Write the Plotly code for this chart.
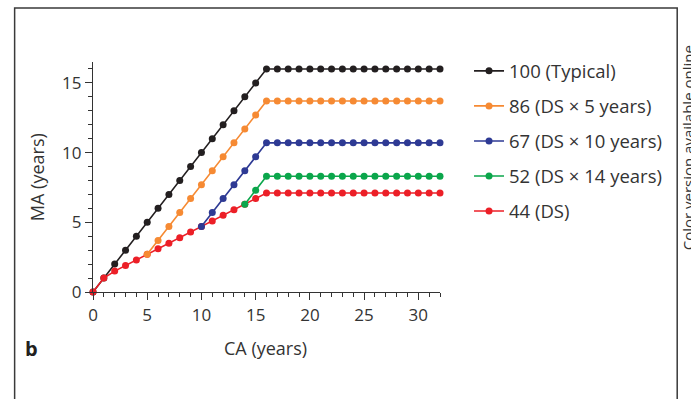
import plotly.graph_objects as go

# ---- data ----
ca_all = list(range(0, 33))
ma_100 = [0, 1, 2, 3, 4, 5, 6, 7, 8, 9, 10, 11, 12, 13, 14, 15, 16,
          16, 16, 16, 16, 16, 16, 16, 16, 16, 16, 16, 16, 16, 16, 16, 16]
ma_44 = [0, 1, 1.5, 1.9, 2.3, 2.7, 3.1, 3.5, 3.9, 4.3, 4.7, 5.1, 5.5, 5.9, 6.3, 6.7, 7.1,
         7.1, 7.1, 7.1, 7.1, 7.1, 7.1, 7.1, 7.1, 7.1, 7.1, 7.1, 7.1, 7.1, 7.1, 7.1, 7.1]
ca_86 = list(range(5, 33))
ma_86 = [2.7, 3.7, 4.7, 5.7, 6.7, 7.7, 8.7, 9.7, 10.7, 11.7, 12.7, 13.7,
         13.7, 13.7, 13.7, 13.7, 13.7, 13.7, 13.7, 13.7, 13.7, 13.7, 13.7, 13.7, 13.7, 13.7, 13.7, 13.7]
ca_67 = list(range(10, 33))
ma_67 = [4.7, 5.7, 6.7, 7.7, 8.7, 9.7, 10.7,
         10.7, 10.7, 10.7, 10.7, 10.7, 10.7, 10.7, 10.7, 10.7, 10.7, 10.7, 10.7, 10.7, 10.7, 10.7, 10.7]
ca_52 = list(range(14, 33))
ma_52 = [6.3, 7.3, 8.3,
         8.3, 8.3, 8.3, 8.3, 8.3, 8.3, 8.3, 8.3, 8.3, 8.3, 8.3, 8.3, 8.3, 8.3, 8.3, 8.3]

labels = ["100 (Typical)", "86 (DS × 5 years)", "67 (DS × 10 years)", "52 (DS × 14 years)", "44 (DS)"]
colors = ["#231f20", "#f68a33", "#2e3a94", "#0ba64b", "#ec1f27"]

FONT = "Open Sans"
TXT = "#333333"

fig = go.Figure()
series = [
    (ca_all, ma_100, 0),
    (ca_all, ma_44, 4),
    (ca_52, ma_52, 3),
    (ca_67, ma_67, 2),
    (ca_86, ma_86, 1),
]
for xs, ys, i in series:
    fig.add_trace(go.Scatter(
        x=xs, y=ys, mode="lines+markers", name=labels[i],
        line=dict(color=colors[i], width=1.6),
        marker=dict(color=colors[i], size=7),
        cliponaxis=False, legendrank=i + 1, legendgroup="g%d" % i,
    ))

axis_common = dict(
    showgrid=False, zeroline=False, showline=True, linecolor="#333333", linewidth=1.2,
    ticks="outside", ticklen=7, tickwidth=1.2, tickcolor="#333333",
    tickfont=dict(family=FONT, size=17, color=TXT),
    minor=dict(dtick=1, ticks="outside", ticklen=4, tickwidth=1, tickcolor="#333333"),
    fixedrange=True,
)
fig.update_xaxes(range=[0, 32], tick0=0, dtick=5, **axis_common)
fig.update_yaxes(range=[0, 16.5], tick0=0, dtick=5, **axis_common)

L, R, T, B = 93.3, 251.0, 61.7, 106.7
W, H = 691, 399
pw, ph = W - L - R, H - T - B

def px(x):
    return (x - L) / pw

def py(y):
    return (H - B - y) / ph

fig.update_layout(
    width=W, height=H,
    margin=dict(l=L, r=R, t=T, b=B, pad=0),
    paper_bgcolor="white", plot_bgcolor="white",
    font=dict(family=FONT, size=15, color=TXT),
    showlegend=True,
    legend=dict(
        x=px(469), y=py(52), xanchor="left", yanchor="top",
        font=dict(family=FONT, size=18.5, color=TXT),
        tracegroupgap=8, bgcolor="rgba(0,0,0,0)", itemsizing="trace",
    ),
    shapes=[dict(type="rect", xref="paper", yref="paper",
                 x0=px(15), x1=px(677), y0=py(415), y1=py(7.5),
                 line=dict(color="#3a3a3a", width=1.5), fillcolor="rgba(0,0,0,0)", layer="below")],
    annotations=[
        dict(text="MA (years)", xref="paper", yref="paper", x=px(38), y=py(177.5),
             textangle=-90, showarrow=False, xanchor="center", yanchor="middle",
             font=dict(family=FONT, size=18, color=TXT)),
        dict(text="CA (years)", xref="paper", yref="paper", x=px(266), y=py(348),
             showarrow=False, xanchor="center", yanchor="middle",
             font=dict(family=FONT, size=18, color=TXT)),
        dict(text="<b>b</b>", xref="paper", yref="paper", x=px(32), y=py(349),
             showarrow=False, xanchor="center", yanchor="middle",
             font=dict(family=FONT, size=20, color="#231f20")),
        dict(text="Color version available online", xref="paper", yref="paper",
             x=px(688), y=py(148), textangle=-90, showarrow=False,
             xanchor="center", yanchor="middle",
             font=dict(family=FONT, size=15, color=TXT)),
    ],
)

fig.write_html("out.html")
